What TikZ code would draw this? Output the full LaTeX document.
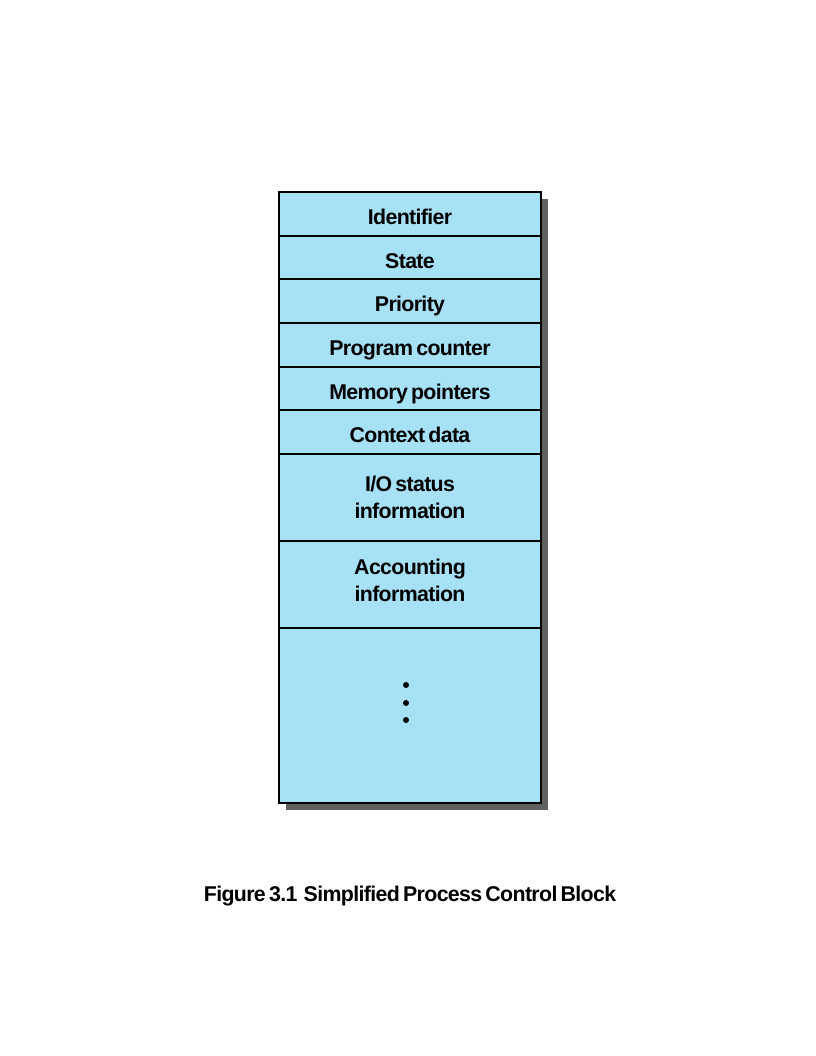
\documentclass[tikz,border=0pt]{standalone}
\usepackage{fontspec}
\setmainfont{Liberation Sans}
\newfontfamily\lab{Liberation Sans}[LetterSpace=-3,WordSpace=0.6]
\definecolor{cellblue}{RGB}{166,225,245}
\definecolor{shadowgray}{RGB}{96,96,96}
\begin{document}
\begin{tikzpicture}[x=0.75pt,y=-0.75pt,
  cell/.style={draw=black, line width=1.5pt, fill=cellblue, anchor=north west,
    minimum width=196.5pt, inner sep=0pt, font=\lab\bfseries\fontsize{16}{20}\selectfont},
  one/.style={cell, text height=16pt, text depth=0pt},
  two/.style={cell, align=center},
  dot/.style={circle, fill=black, inner sep=0pt, minimum size=4.5pt},
  caption/.style={anchor=base, inner sep=0pt, font=\lab\bfseries\fontsize{16}{20}\selectfont}]
\useasboundingbox (0,0) rectangle (816,1056);
\fill[shadowgray] (286,199) rectangle (548,810);
\node[one, minimum height=33pt] (id) at (278,191) {Identifier};
\node[one, minimum height=32.25pt] (st) at (278,235) {State};
\node[one, minimum height=33pt] (pr) at (278,278) {Priority};
\node[one, minimum height=33pt] (pc) at (278,322) {Program counter};
\node[one, minimum height=32.25pt] (mp) at (278,366) {Memory pointers};
\node[one, minimum height=33pt] (cd) at (278,409) {Context data};
\node[two, minimum height=65.25pt] (io) at (278,453) {I/O status\\information};
\node[two, minimum height=65.25pt] (ac) at (278,540) {Accounting\\information\rule[-6pt]{0pt}{0pt}};
\node[cell, minimum height=131.25pt] (rest) at (278,627) {};
\node[dot] (d1) at (406,685) {};
\node[dot] (d2) at (406,703) {};
\node[dot] (d3) at (406,720) {};
\node[caption] (cap) at (410,901) {Figure 3.1 \ Simplified Process Control Block};
\end{tikzpicture}
\end{document}
